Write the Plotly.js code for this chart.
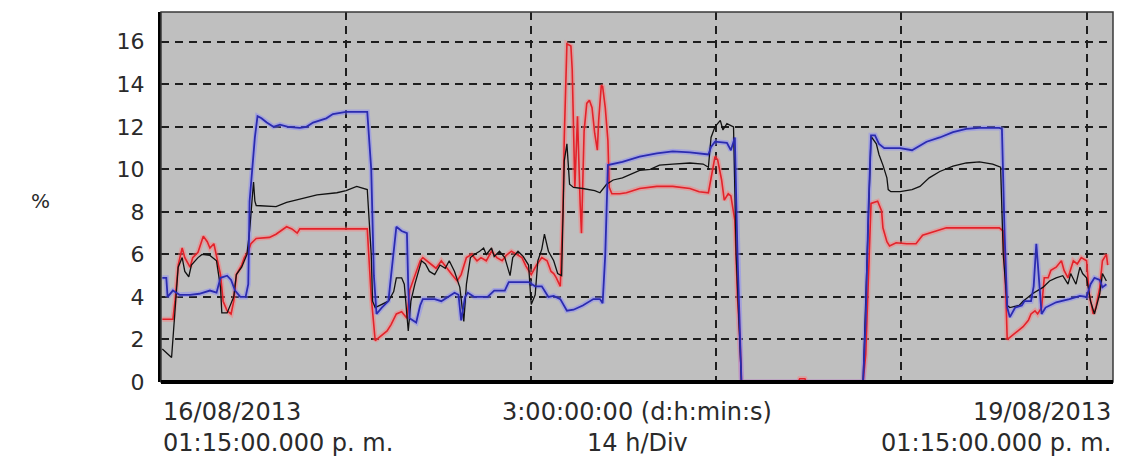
<!DOCTYPE html>
<html>
<head>
<meta charset="utf-8">
<script src="https://cdn.plot.ly/plotly-3.0.1.min.js"></script>
<style>
  html, body { margin: 0; padding: 0; background: #ffffff; }
  #chart { width: 1122px; height: 469px; }
</style>
</head>
<body>
<div id="chart"></div>
<script>
// Elapsed time in hours from 16/08/2013 01:15 p. m. (72 h window, 14 h per division)
const blueHours = [0.1,0.4,0.5,0.9,1.4,2.2,2.9,3.7,4.2,4.5,5.0,5.3,5.6,6.0,6.4,6.6,6.7,6.9,7.1,7.3,7.6,8.0,8.5,9.0,9.6,10.5,11.0,11.5,12.0,12.5,13.0,14.0,15.6,15.9,16.1,
  16.3,16.7,17.2,17.4,17.7,17.8,18.2,18.6,18.7,18.8,19.3,19.6,19.8,20.7,21.2,21.7,22.2,22.5,22.7,23.0,23.2,23.7,24.7,25.2,26.0,26.3,27.8,28.3,28.8,29.3,
  29.7,30.2,30.7,31.2,31.9,32.7,33.2,33.4,33.6,33.8,34.9,36.2,37.5,38.7,40.0,41.4,41.6,41.9,42.8,43.1,43.4,43.6,43.8,43.9,
  53.1,53.3,53.5,53.7,54.0,54.3,54.7,55.9,56.8,57.9,58.9,59.9,60.9,61.9,63.4,63.6,63.8,64.0,
  64.2,64.6,65.1,65.3,65.8,66.0,66.2,66.4,66.6,66.9,67.7,68.7,69.5,70.0,70.3,70.6,71.0,71.2,71.5];
const blueValues = [4.9,4.9,4.0,4.3,4.1,4.1,4.15,4.3,4.2,4.9,5.0,4.8,4.3,4.0,4.0,4.6,8.5,10.0,11.5,12.5,12.4,12.2,12.0,12.1,12.0,11.95,12.0,12.2,12.3,12.4,12.6,12.7,12.7,10.0,5.0,
  3.2,3.5,3.8,5.0,7.0,7.3,7.1,7.0,4.5,3.0,2.8,3.6,3.9,3.9,3.8,4.0,4.2,4.1,2.9,4.0,4.2,4.0,4.0,4.3,4.3,4.7,4.7,4.5,4.5,4.0,
  4.05,3.9,3.35,3.4,3.6,3.9,3.9,3.7,6.0,10.2,10.35,10.6,10.75,10.85,10.8,10.7,11.05,11.3,11.25,10.9,11.5,6.0,2.0,0,
  0,3.0,8.0,11.6,11.6,11.2,11.0,11.0,10.9,11.3,11.5,11.75,11.9,11.95,11.95,11.9,7.0,3.5,
  3.05,3.5,3.6,3.8,3.8,4.5,6.5,5.0,3.2,3.5,3.75,3.9,4.05,4.0,4.6,4.9,4.8,4.45,4.6];

const redHours = [0.1,0.9,1.06,1.3,1.6,1.8,2.2,2.4,2.8,3.2,3.5,3.7,4.0,4.2,4.5,4.7,5.0,5.3,5.5,5.7,6.1,6.3,6.6,6.8,7.0,7.2,8.2,8.7,9.5,9.9,10.3,10.5,15.6,15.9,
  16.2,16.7,17.1,17.4,17.8,18.2,18.6,18.8,19.2,19.6,19.8,20.1,20.5,20.8,21.2,21.6,22.0,22.4,22.7,23.1,23.5,23.9,24.2,24.6,25.0,25.4,25.8,26.1,26.5,26.9,27.3,27.6,28.0,28.4,28.8,29.2,29.5,
  29.7,29.9,30.2,30.3,30.4,30.5,30.7,31.0,31.1,31.3,31.5,31.7,31.8,32.0,32.2,32.4,32.6,32.8,33.0,33.1,33.3,33.4,33.6,33.8,33.9,34.1,34.7,35.2,36.2,37.5,38.7,40.0,40.7,41.4,41.6,41.9,42.1,42.4,42.6,42.9,43.1,43.4,43.6,43.8,43.9,
  48.2,48.3,48.7,48.8,53.1,53.3,53.5,53.7,54.2,54.5,54.6,54.9,55.1,55.6,56.4,57.1,57.6,58.4,59.4,63.4,63.7,63.9,64.0,
  64.2,64.4,64.8,65.2,65.6,65.8,66.1,66.3,66.6,66.8,67.1,67.3,67.7,68.1,68.3,68.6,69.0,69.3,69.6,70.0,70.2,70.5,70.7,71.0,71.2,71.5,71.6];
const redValues = [2.95,2.95,3.8,5.5,6.3,5.85,5.4,5.85,6.1,6.85,6.6,6.3,6.5,5.85,5.05,3.8,3.35,3.2,3.8,5.05,5.5,5.85,6.15,6.5,6.65,6.75,6.8,6.95,7.3,7.2,7.0,7.2,7.2,4.0,
  1.95,2.2,2.4,2.7,3.2,3.3,3.0,4.3,5.05,5.7,5.85,5.7,5.5,5.35,5.7,5.35,5.05,4.75,5.05,5.85,6.0,5.7,5.85,5.7,6.15,5.85,5.7,5.95,6.15,6.0,5.85,5.45,5.05,5.5,5.85,5.7,5.2,
  5.1,4.9,4.5,6.0,8.2,11.5,15.9,15.8,14.7,9.15,12.5,8.4,7.0,11.8,13.1,13.25,12.9,11.7,10.9,12.3,13.95,13.9,12.9,11.35,9.15,8.85,8.85,8.9,9.1,9.2,9.2,9.1,8.95,8.9,9.65,10.6,10.45,9.5,8.55,8.85,8.75,7.6,4.0,1.8,0,
  0,0.15,0.15,0,0,1.3,5.0,8.4,8.5,8.05,7.25,6.6,6.4,6.55,6.5,6.5,6.9,7.05,7.25,7.25,7.1,4.0,2.0,
  2.1,2.2,2.4,2.6,2.9,3.2,3.35,3.2,3.5,4.9,4.9,5.25,5.4,5.7,5.25,4.9,5.7,5.55,5.85,5.7,4.15,3.2,3.5,4.45,5.7,6.0,5.5];

const blackHours = [0.1,0.55,0.8,0.9,1.06,1.3,1.6,1.8,2.1,2.3,2.8,3.1,3.7,4.2,4.5,4.6,5.0,5.5,5.7,6.1,6.5,6.7,6.9,7.0,7.1,7.2,8.7,9.5,10.5,11.8,13.3,14.0,14.8,15.6,15.9,
  16.0,16.2,16.7,17.2,17.6,17.8,18.2,18.4,18.7,18.9,19.2,19.4,19.7,20.0,20.3,20.7,21.1,21.5,21.8,22.2,22.6,22.9,23.1,23.4,23.7,24.1,24.4,24.6,25.0,25.2,25.6,26.0,26.4,26.6,27.0,27.4,27.8,28.0,28.3,28.5,28.8,29.0,29.3,29.7,
  30.0,30.3,30.4,30.5,30.7,30.8,30.9,31.2,31.9,32.8,33.2,33.7,34.2,34.9,35.7,36.2,37.0,37.7,38.7,40.0,41.0,41.4,41.6,41.9,42.3,42.5,42.8,43.3,43.5,43.8,43.9,
  53.1,53.4,53.7,54.1,54.3,54.6,54.9,55.0,55.2,55.9,56.8,57.4,58.1,58.9,59.9,60.9,61.9,62.9,63.5,63.7,64.0,
  64.2,64.9,65.2,65.9,66.7,67.2,67.7,68.2,68.6,68.8,69.2,69.5,69.7,70.0,70.3,70.6,71.0,71.2,71.5];
const blackValues = [1.55,1.3,1.15,2.0,3.2,5.4,5.85,5.2,4.95,5.5,5.85,6.0,5.95,5.7,4.45,3.25,3.25,4.0,5.05,5.4,6.0,7.1,8.65,9.4,8.5,8.3,8.25,8.45,8.6,8.8,8.9,9.0,9.2,9.05,6.0,
  3.8,3.5,3.65,3.8,4.25,4.9,4.9,4.6,2.4,3.8,4.6,5.05,5.7,5.55,5.2,5.05,5.5,5.35,5.7,5.2,4.45,2.85,4.6,5.85,6.0,6.15,6.3,6.0,6.3,5.9,6.15,5.85,5.0,5.85,6.15,5.9,5.5,3.65,4.1,5.7,6.25,6.95,6.15,5.7,
  5.1,5.0,7.6,10.4,11.2,9.95,9.3,9.15,9.1,9.0,8.9,9.3,9.5,9.6,9.8,9.95,10.0,10.2,10.25,10.3,10.25,10.1,11.5,12.0,12.3,11.85,12.15,12.0,6.0,1.0,0,
  0,6.0,11.55,11.2,10.7,10.2,9.6,9.05,8.95,8.95,9.05,9.2,9.6,9.9,10.15,10.3,10.35,10.25,10.1,6.0,3.6,
  3.5,3.6,3.8,4.15,4.45,4.75,4.9,5.0,4.6,5.1,4.6,5.4,5.1,4.9,3.8,3.2,4.15,5.1,4.75];

// Axis ticks and caption texts
const yTicks = [0, 2, 4, 6, 8, 10, 12, 14, 16];
const startDate = '16/08/2013';
const endDate = '19/08/2013';
const timeOfDay = '01:15:00.000 p. m.';
const spanLabel = '3:00:00:00 (d:h:min:s)';
const divLabel = '14 h/Div';
const unitLabel = '%';

const textColor = '#2a2a2a';
const axisFont = 'DejaVu Sans, Arial, sans-serif';

// Soft coloured glow drawn under each coloured trace
function halo(x, y, color) {
  return { x: x, y: y, type: 'scatter', mode: 'lines', hoverinfo: 'skip',
           line: { color: color, width: 5 } };
}
function core(x, y, color, width) {
  return { x: x, y: y, type: 'scatter', mode: 'lines', hoverinfo: 'skip',
           line: { color: color, width: width } };
}

const traces = [
  halo(redHours, redValues, 'rgba(255,120,120,0.45)'),
  halo(blueHours, blueValues, 'rgba(130,130,255,0.45)'),
  core(redHours, redValues, '#e3222a', 1.6),
  core(blackHours, blackValues, '#111111', 1.3),
  core(blueHours, blueValues, '#2b2bb0', 1.8)
];

const layout = {
  width: 1122,
  height: 469,
  margin: { l: 161, r: 9, t: 12, b: 87 },
  paper_bgcolor: '#ffffff',
  plot_bgcolor: '#bfbfbf',
  showlegend: false,
  xaxis: {
    range: [0, 72],
    tick0: 0,
    dtick: 14,
    showticklabels: false,
    ticks: '',
    showgrid: true,
    gridcolor: '#1e1e1e',
    gridwidth: 2,
    griddash: '8px,6px',
    zeroline: false,
    showline: false,
    fixedrange: true
  },
  yaxis: {
    range: [0, 17.4],
    tickvals: yTicks,
    ticktext: yTicks.map(String),
    ticks: '',
    ticklabelstandoff: 9,
    tickfont: { family: axisFont, size: 22, color: textColor },
    showgrid: true,
    gridcolor: '#1e1e1e',
    gridwidth: 2,
    griddash: '8px,6px',
    zeroline: false,
    showline: true,
    linecolor: '#000000',
    linewidth: 3,
    fixedrange: true
  },
  shapes: [
    // thin frame around the plotting area
    { type: 'rect', xref: 'paper', yref: 'paper', x0: 0, x1: 1, y0: 0, y1: 1,
      line: { color: '#3a3a3a', width: 1.5 }, layer: 'above' },
    // heavy baseline on the time axis, drawn over the traces
    { type: 'line', xref: 'paper', yref: 'paper', x0: 0, x1: 1, y0: 0, y1: 0,
      line: { color: '#000000', width: 4 }, layer: 'above' }
  ],
  annotations: [
    { text: startDate, xref: 'paper', yref: 'paper', x: 0, y: 0, xanchor: 'left', yanchor: 'middle',
      yshift: -30, showarrow: false, font: { family: axisFont, size: 24, color: textColor } },
    { text: timeOfDay, xref: 'paper', yref: 'paper', x: 0, y: 0, xanchor: 'left', yanchor: 'middle',
      yshift: -61, showarrow: false, font: { family: axisFont, size: 24, color: textColor } },
    { text: spanLabel, xref: 'paper', yref: 'paper', x: 0.5, y: 0, xanchor: 'center', yanchor: 'middle',
      yshift: -30, showarrow: false, font: { family: axisFont, size: 24, color: textColor } },
    { text: divLabel, xref: 'paper', yref: 'paper', x: 0.5, y: 0, xanchor: 'center', yanchor: 'middle',
      yshift: -61, showarrow: false, font: { family: axisFont, size: 24, color: textColor } },
    { text: endDate, xref: 'paper', yref: 'paper', x: 1, y: 0, xanchor: 'right', yanchor: 'middle',
      yshift: -30, showarrow: false, font: { family: axisFont, size: 24, color: textColor } },
    { text: timeOfDay, xref: 'paper', yref: 'paper', x: 1, y: 0, xanchor: 'right', yanchor: 'middle',
      yshift: -61, showarrow: false, font: { family: axisFont, size: 24, color: textColor } },
    { text: unitLabel, xref: 'paper', yref: 'paper', x: 0, y: 0.49, xanchor: 'center', yanchor: 'middle',
      xshift: -121, showarrow: false, font: { family: axisFont, size: 20, color: textColor } }
  ]
};

Plotly.newPlot('chart', traces, layout, { staticPlot: true, displayModeBar: false });
</script>
</body>
</html>
